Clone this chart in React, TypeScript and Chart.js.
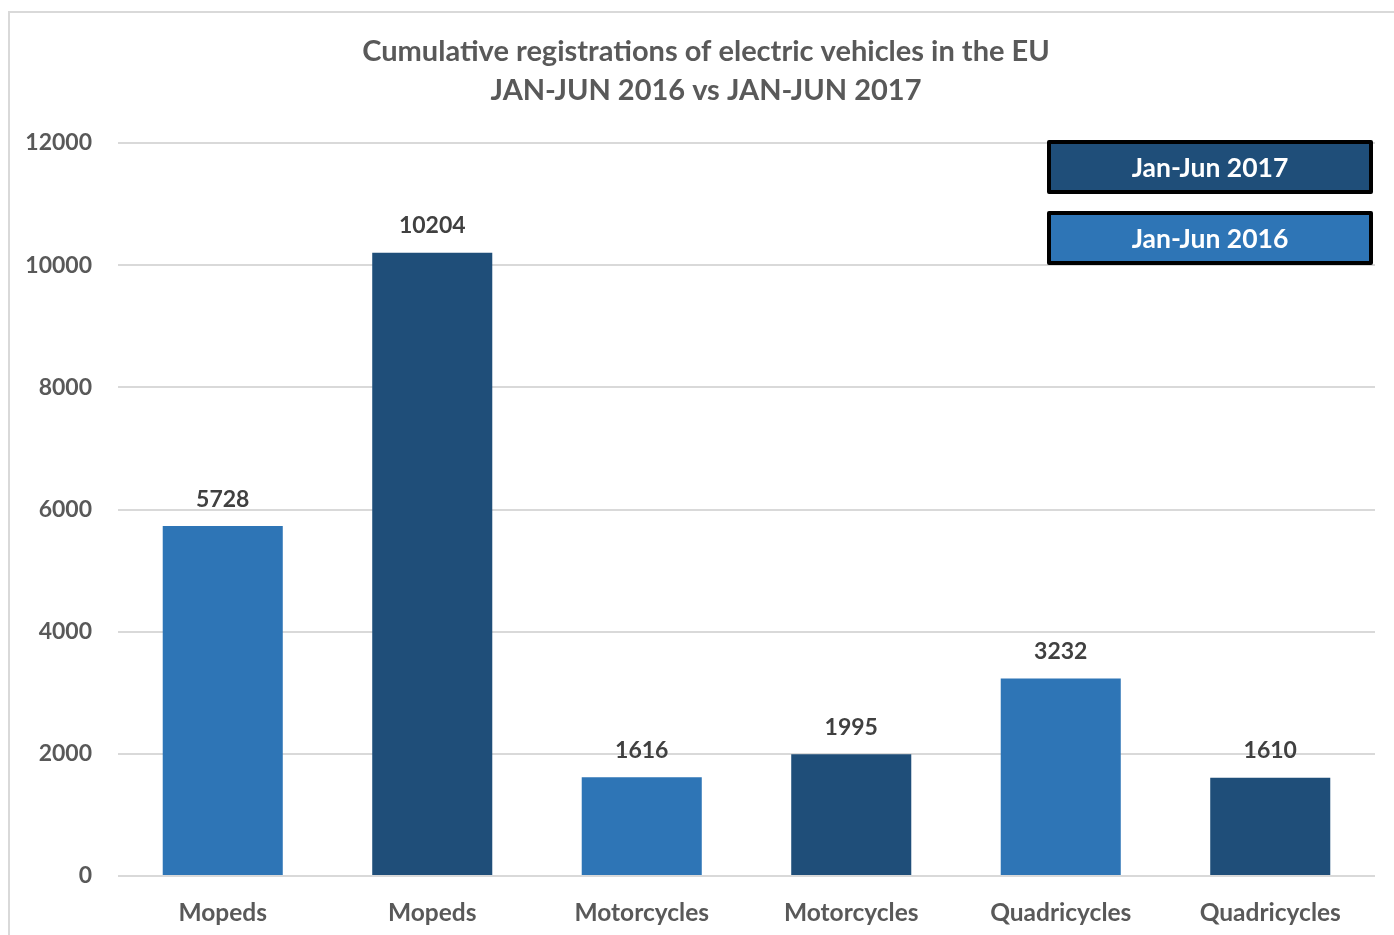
import React, { useEffect, useRef } from "react";
import { Chart, registerables } from "chart.js";

Chart.register(...registerables);

const categories = ["Mopeds", "Mopeds", "Motorcycles", "Motorcycles", "Quadricycles", "Quadricycles"];
const values2016 = [5728, null, 1616, null, 3232, null];
const values2017 = [null, 10204, null, 1995, null, 1610];
const yTicks = [0, 2000, 4000, 6000, 8000, 10000, 12000];
const titleLines = ["Cumulative registrations of electric vehicles in the EU", "JAN-JUN 2016 vs JAN-JUN 2017"];
const legendLabels = ["Jan-Jun 2017", "Jan-Jun 2016"];

const C2016 = "#2E75B6";
const C2017 = "#1F4E79";
const FONT = "Lato, 'Open Sans', sans-serif";

const framePlugin = {
  id: "frame",
  beforeDraw(chart: any) {
    const ctx = chart.ctx;
    ctx.save();
    ctx.fillStyle = "#ffffff";
    ctx.fillRect(0, 0, chart.width, chart.height);
    ctx.strokeStyle = "#d9d9d9";
    ctx.lineWidth = 2;
    ctx.strokeRect(9, 12, chart.width + 20, chart.height + 20);
    ctx.restore();
  },
};

const titlePlugin = {
  id: "customTitle",
  afterDraw(chart: any) {
    const ctx = chart.ctx;
    ctx.save();
    ctx.fillStyle = "#595959";
    ctx.font = `bold 29px ${FONT}`;
    ctx.textAlign = "center";
    ctx.textBaseline = "middle";
    titleLines.forEach((line, i) => {
      ctx.fillText(line, 706, 52 + i * 39);
    });
    ctx.restore();
  },
};

const labelsPlugin = {
  id: "valueLabels",
  afterDatasetsDraw(chart: any) {
    const ctx = chart.ctx;
    ctx.save();
    ctx.font = `bold 23px ${FONT}`;
    ctx.fillStyle = "#404040";
    ctx.textAlign = "center";
    ctx.textBaseline = "middle";
    chart.data.datasets.forEach((ds: any, di: number) => {
      const meta = chart.getDatasetMeta(di);
      meta.data.forEach((bar: any, i: number) => {
        const v = ds.data[i];
        if (v == null) return;
        ctx.fillText(String(v), bar.x, bar.y - 27);
      });
    });
    ctx.restore();
  },
};

const legendPlugin = {
  id: "boxLegend",
  afterDraw(chart: any) {
    const ctx = chart.ctx;
    const colors = [C2017, C2016];
    ctx.save();
    legendLabels.forEach((lbl, i) => {
      const x = 1049;
      const y = 142 + i * 71;
      const w = 322;
      const h = 50;
      ctx.fillStyle = colors[i];
      ctx.fillRect(x, y, w, h);
      ctx.strokeStyle = "#000000";
      ctx.lineWidth = 4;
      ctx.lineJoin = "round";
      ctx.strokeRect(x, y, w, h);
      ctx.fillStyle = "#ffffff";
      ctx.font = `bold 26.5px ${FONT}`;
      ctx.textAlign = "center";
      ctx.textBaseline = "middle";
      ctx.fillText(lbl, x + w / 2, y + h / 2 + 1);
    });
    ctx.restore();
  },
};

export default function App() {
  const ref = useRef<HTMLCanvasElement | null>(null);
  useEffect(() => {
    if (!ref.current) return;
    const chart = new Chart(ref.current, {
      type: "bar",
      data: {
        labels: categories,
        datasets: [
          { label: "Jan-Jun 2016", data: values2016 as any, backgroundColor: C2016 },
          { label: "Jan-Jun 2017", data: values2017 as any, backgroundColor: C2017 },
        ],
      },
      options: {
        responsive: false,
        animation: false,
        skipNull: true,
        categoryPercentage: 0.573,
        barPercentage: 1,
        layout: { padding: { left: 0, right: 19, top: 143, bottom: 0 } },
        plugins: {
          legend: { display: false },
          tooltip: { enabled: false },
          title: { display: false },
        },
        scales: {
          x: {
            grid: { display: false },
            border: { display: false },
            ticks: { color: "#595959", font: { family: FONT, size: 24.5, weight: "bold" }, padding: 14 },
            afterFit(scale: any) {
              scale.height = 59;
            },
          },
          y: {
            min: 0,
            max: 12000,
            afterBuildTicks(scale: any) {
              scale.ticks = yTicks.map((v) => ({ value: v }));
            },
            grid: { color: "#d9d9d9", lineWidth: 2, drawTicks: false },
            border: { display: false },
            ticks: {
              color: "#595959",
              font: { family: FONT, size: 23, weight: "bold" },
              padding: 26,
              callback: (v: any) => String(v),
            },
            afterFit(scale: any) {
              scale.width = 118;
            },
          },
        },
      },
      plugins: [framePlugin, titlePlugin, labelsPlugin, legendPlugin],
    } as any);
    return () => chart.destroy();
  }, []);
  return (
    <canvas
      ref={ref}
      width={1394}
      height={935}
      style={{ position: "absolute", left: 0, top: 0, width: 1394, height: 935 }}
    />
  );
}
